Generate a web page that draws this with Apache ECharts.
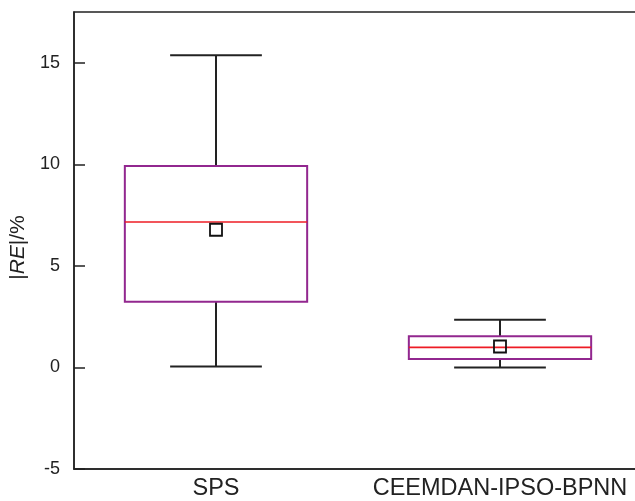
<!DOCTYPE html>
<html>
<head>
<meta charset="utf-8">
<script src="https://cdn.jsdelivr.net/npm/echarts@6/dist/echarts.min.js"></script>
<style>html,body{margin:0;padding:0;background:#fff}#c{width:635px;height:501px}</style>
</head>
<body>
<div id="c"></div>
<script>
var categories = ['SPS', 'CEEMDAN-IPSO-BPNN'];
var minVals = [0.05, 0.0];
var q1Vals = [3.23, 0.41];
var medianVals = [7.16, 0.99];
var q3Vals = [9.92, 1.53];
var maxVals = [15.37, 2.35];
var meanVals = [6.78, 1.03];
var yMin = -5, yMax = 17.5, yInterval = 5;

var data = categories.map(function (c, i) {
  return [i, minVals[i], q1Vals[i], medianVals[i], q3Vals[i], maxVals[i], meanVals[i]];
});

var chart = echarts.init(document.getElementById('c'), null, {renderer: 'canvas'});
var FONT = 'Liberation Sans, Arial, sans-serif';
chart.setOption({
  animation: false,
  grid: {left: 74, top: 12, right: -7, bottom: 32, outerBoundsMode: 'none', containLabel: false,
    show: true, borderColor: '#222', borderWidth: 1.5, backgroundColor: 'transparent'},
  xAxis: {
    type: 'category', data: categories,
    axisLine: {show: true, onZero: false, lineStyle: {color: '#222', width: 1.5}},
    axisTick: {show: false},
    axisLabel: {color: '#222', fontSize: 23.5, fontFamily: FONT, margin: 8, interval: 0, hideOverlap: false}
  },
  yAxis: {
    type: 'value', min: yMin, max: yMax, interval: yInterval,
    splitLine: {show: false},
    axisLine: {show: true, lineStyle: {color: '#222', width: 1.5}},
    axisTick: {show: true, inside: true, length: 11, lineStyle: {color: '#222', width: 1.5}},
    axisLabel: {color: '#222', fontSize: 18, fontFamily: FONT, margin: 14, showMaxLabel: false},
    name: '|{i|RE}|/%',
    nameLocation: 'middle', nameRotate: 90, nameGap: 36,
    nameTextStyle: {color: '#222', fontSize: 21, fontFamily: FONT, padding: [0, 14, 0, 0],
      rich: {i: {fontStyle: 'italic', fontSize: 21, fontFamily: FONT, color: '#222'}}}
  },
  series: [{
    type: 'custom',
    data: data,
    encode: {x: 0, y: [1, 2, 3, 4, 5, 6]},
    renderItem: function (params, api) {
      var idx = api.value(0);
      var band = api.size([1, 0])[0];
      var boxHalf = band * 0.321;
      var capHalf = band * 0.1615;
      var pMin = api.coord([idx, api.value(1)]);
      var pQ1 = api.coord([idx, api.value(2)]);
      var pMed = api.coord([idx, api.value(3)]);
      var pQ3 = api.coord([idx, api.value(4)]);
      var pMax = api.coord([idx, api.value(5)]);
      var pMean = api.coord([idx, api.value(6)]);
      var cx = pMed[0];
      var black = {stroke: '#222', lineWidth: 2, fill: null};
      var sq = 12;
      return {
        type: 'group',
        children: [
          {type: 'line', shape: {x1: cx, y1: pQ3[1], x2: cx, y2: pMax[1]}, style: black},
          {type: 'line', shape: {x1: cx, y1: pQ1[1], x2: cx, y2: pMin[1]}, style: black},
          {type: 'line', shape: {x1: cx - capHalf, y1: pMax[1], x2: cx + capHalf, y2: pMax[1]}, style: black},
          {type: 'line', shape: {x1: cx - capHalf, y1: pMin[1], x2: cx + capHalf, y2: pMin[1]}, style: black},
          {type: 'rect', shape: {x: cx - boxHalf, y: pQ3[1], width: boxHalf * 2, height: pQ1[1] - pQ3[1]},
            style: {stroke: '#92278f', lineWidth: 2, fill: null}},
          {type: 'line', shape: {x1: cx - boxHalf, y1: pMed[1], x2: cx + boxHalf, y2: pMed[1]},
            style: {stroke: '#ee1c25', lineWidth: 1.6}},
          {type: 'rect', shape: {x: pMean[0] - sq / 2, y: pMean[1] - sq / 2, width: sq, height: sq},
            style: {stroke: '#111', lineWidth: 1.8, fill: 'rgba(255,255,255,0)'}}
        ]
      };
    }
  }]
});
</script>
</body>
</html>
